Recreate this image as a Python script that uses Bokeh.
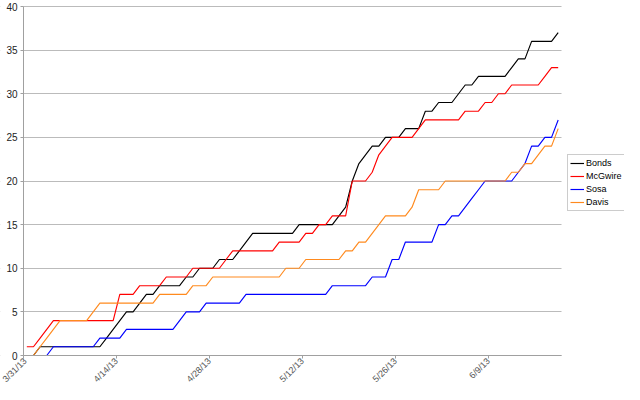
import math
from bokeh.plotting import figure
from bokeh.models import (ColumnDataSource, FixedTicker, Legend, LegendItem,
                          BoxAnnotation, Range1d)
from bokeh.embed import file_html
from bokeh.resources import INLINE

# ---- data ----
n_days = 81  # daily points from 3/31/13
tick_days = [0, 14, 28, 42, 56, 70]
tick_labels = ["3/31/13", "4/14/13", "4/28/13", "5/12/13", "5/26/13", "6/9/13"]
y_ticks = [0, 5, 10, 15, 20, 25, 30, 35, 40]

bonds = [0, 0, 1, 1, 1, 1, 1, 1, 1, 1,
         1, 1, 2, 3, 4, 5, 5, 6, 7, 7,
         8, 8, 8, 8, 9, 9, 10, 10, 10, 11,
         11, 11, 12, 13, 14, 14, 14, 14, 14, 14,
         14, 15, 15, 15, 15, 15, 15, 16, 17, 20,
         22, 23, 24, 24, 25, 25, 25, 26, 26, 26,
         28, 28, 29, 29, 29, 30, 31, 31, 32, 32,
         32, 32, 32, 33, 34, 34, 36, 36, 36, 36,
         37]
mcgwire = [1, 1, 2, 3, 4, 4, 4, 4, 4, 4,
           4, 4, 4, 4, 7, 7, 7, 8, 8, 8,
           8, 9, 9, 9, 9, 10, 10, 10, 10, 10,
           11, 12, 12, 12, 12, 12, 12, 12, 13, 13,
           13, 13, 14, 14, 15, 15, 16, 16, 16, 20,
           20, 20, 21, 23, 24, 25, 25, 25, 25, 26,
           27, 27, 27, 27, 27, 27, 28, 28, 28, 29,
           29, 30, 30, 31, 31, 31, 31, 31, 32, 33,
           33]
sosa = [0, 0, 0, 0, 1, 1, 1, 1, 1, 1,
        1, 2, 2, 2, 2, 3, 3, 3, 3, 3,
        3, 3, 3, 4, 5, 5, 5, 6, 6, 6,
        6, 6, 6, 7, 7, 7, 7, 7, 7, 7,
        7, 7, 7, 7, 7, 7, 8, 8, 8, 8,
        8, 8, 9, 9, 9, 11, 11, 13, 13, 13,
        13, 13, 15, 15, 16, 16, 17, 18, 19, 20,
        20, 20, 20, 20, 21, 22, 24, 24, 25, 25,
        27]
davis = [0, 0, 1, 2, 3, 4, 4, 4, 4, 4,
         5, 6, 6, 6, 6, 6, 6, 6, 6, 6,
         7, 7, 7, 7, 7, 8, 8, 8, 9, 9,
         9, 9, 9, 9, 9, 9, 9, 9, 9, 10,
         10, 10, 11, 11, 11, 11, 11, 11, 12, 12,
         13, 13, 14, 15, 16, 16, 16, 16, 17, 19,
         19, 19, 19, 20, 20, 20, 20, 20, 20, 20,
         20, 20, 20, 21, 21, 22, 22, 23, 24, 24,
         26]

series_names = ["Bonds", "McGwire", "Sosa", "Davis"]
series_values = [bonds, mcgwire, sosa, davis]
series_colors = ["#000000", "#ff0000", "#0000ff", "#ff8a1e"]

# ---- layout (canvas pixels) ----
FONT = "Liberation Sans"
W, H = 624, 384
LEFT_PX, RIGHT_PX = 23, 561     # where day 0 and day n_days land
TOP_PX, ZERO_PX = 6, 355        # where y = 40 and y = 0 land
ppd = (RIGHT_PX - LEFT_PX) / n_days
ppu = (ZERO_PX - TOP_PX) / 40.0
x_range = Range1d(-LEFT_PX / ppd, (W - LEFT_PX) / ppd)
y_range = Range1d(-(H - ZERO_PX) / ppu, 40 + TOP_PX / ppu)

p = figure(width=W, height=H, output_backend="svg", toolbar_location=None,
           x_range=x_range, y_range=y_range,
           min_border_top=0, min_border_left=0, min_border_right=0,
           min_border_bottom=0)
p.outline_line_color = None
p.background_fill_color = "white"
p.border_fill_color = "white"

# x axis, drawn at y = 0
p.xaxis.fixed_location = 0
p.xaxis.ticker = FixedTicker(ticks=tick_days)
p.xaxis.major_label_overrides = {d: lab for d, lab in zip(tick_days, tick_labels)}
p.xaxis.bounds = (0, n_days)
p.xaxis.major_label_orientation = math.pi / 4
p.xaxis.major_label_text_font = FONT
p.xaxis.major_label_text_font_size = "9px"
p.xaxis.major_label_text_color = "#555555"
p.xaxis.major_label_standoff = 1
p.xaxis.major_tick_out = 3
p.xaxis.major_tick_in = 0
p.xaxis.major_tick_line_color = "#a0a0a0"
p.xaxis.axis_line_color = "#a0a0a0"
p.xaxis.minor_tick_line_color = None

# y axis, drawn at x = 0
p.yaxis.fixed_location = 0
p.yaxis.ticker = FixedTicker(ticks=y_ticks)
p.yaxis.bounds = (0, 40)
p.yaxis.major_label_text_font = FONT
p.yaxis.major_label_text_font_size = "10px"
p.yaxis.major_label_text_color = "#222222"
p.yaxis.major_label_standoff = 3
p.yaxis.major_tick_out = 3
p.yaxis.major_tick_in = 0
p.yaxis.major_tick_line_color = "#a0a0a0"
p.yaxis.axis_line_color = "#a0a0a0"
p.yaxis.minor_tick_line_color = None

p.xgrid.visible = False
p.ygrid.ticker = FixedTicker(ticks=y_ticks)
p.ygrid.grid_line_color = "#bbbbbb"
p.ygrid.grid_line_width = 1

# white masks so the grid only spans the data area
p.add_layout(BoxAnnotation(right=0, fill_color="white", fill_alpha=1.0,
                           line_color=None, level="underlay"))
p.add_layout(BoxAnnotation(left=n_days, fill_color="white", fill_alpha=1.0,
                           line_color=None, level="underlay"))

# lines
x_pos = [i + 0.5 for i in range(n_days)]
items = []
for name, vals, col in zip(series_names, series_values, series_colors):
    src = ColumnDataSource(dict(x=x_pos, y=vals))
    r = p.line("x", "y", source=src, line_color=col, line_width=1.15)
    items.append(LegendItem(label=name, renderers=[r]))

legend = Legend(items=items, location=(RIGHT_PX + 6, 173))
legend.margin = 0
legend.padding = 2
legend.spacing = 1
legend.label_height = 12
legend.glyph_height = 12
legend.glyph_width = 14
legend.label_standoff = 2
legend.label_text_font = FONT
legend.label_text_font_size = "9px"
legend.label_text_color = "#000000"
legend.border_line_color = "#999999"
legend.border_line_width = 1
legend.background_fill_color = "white"
legend.background_fill_alpha = 1.0
p.add_layout(legend)

open("out.html", "w").write(file_html(p, INLINE))
